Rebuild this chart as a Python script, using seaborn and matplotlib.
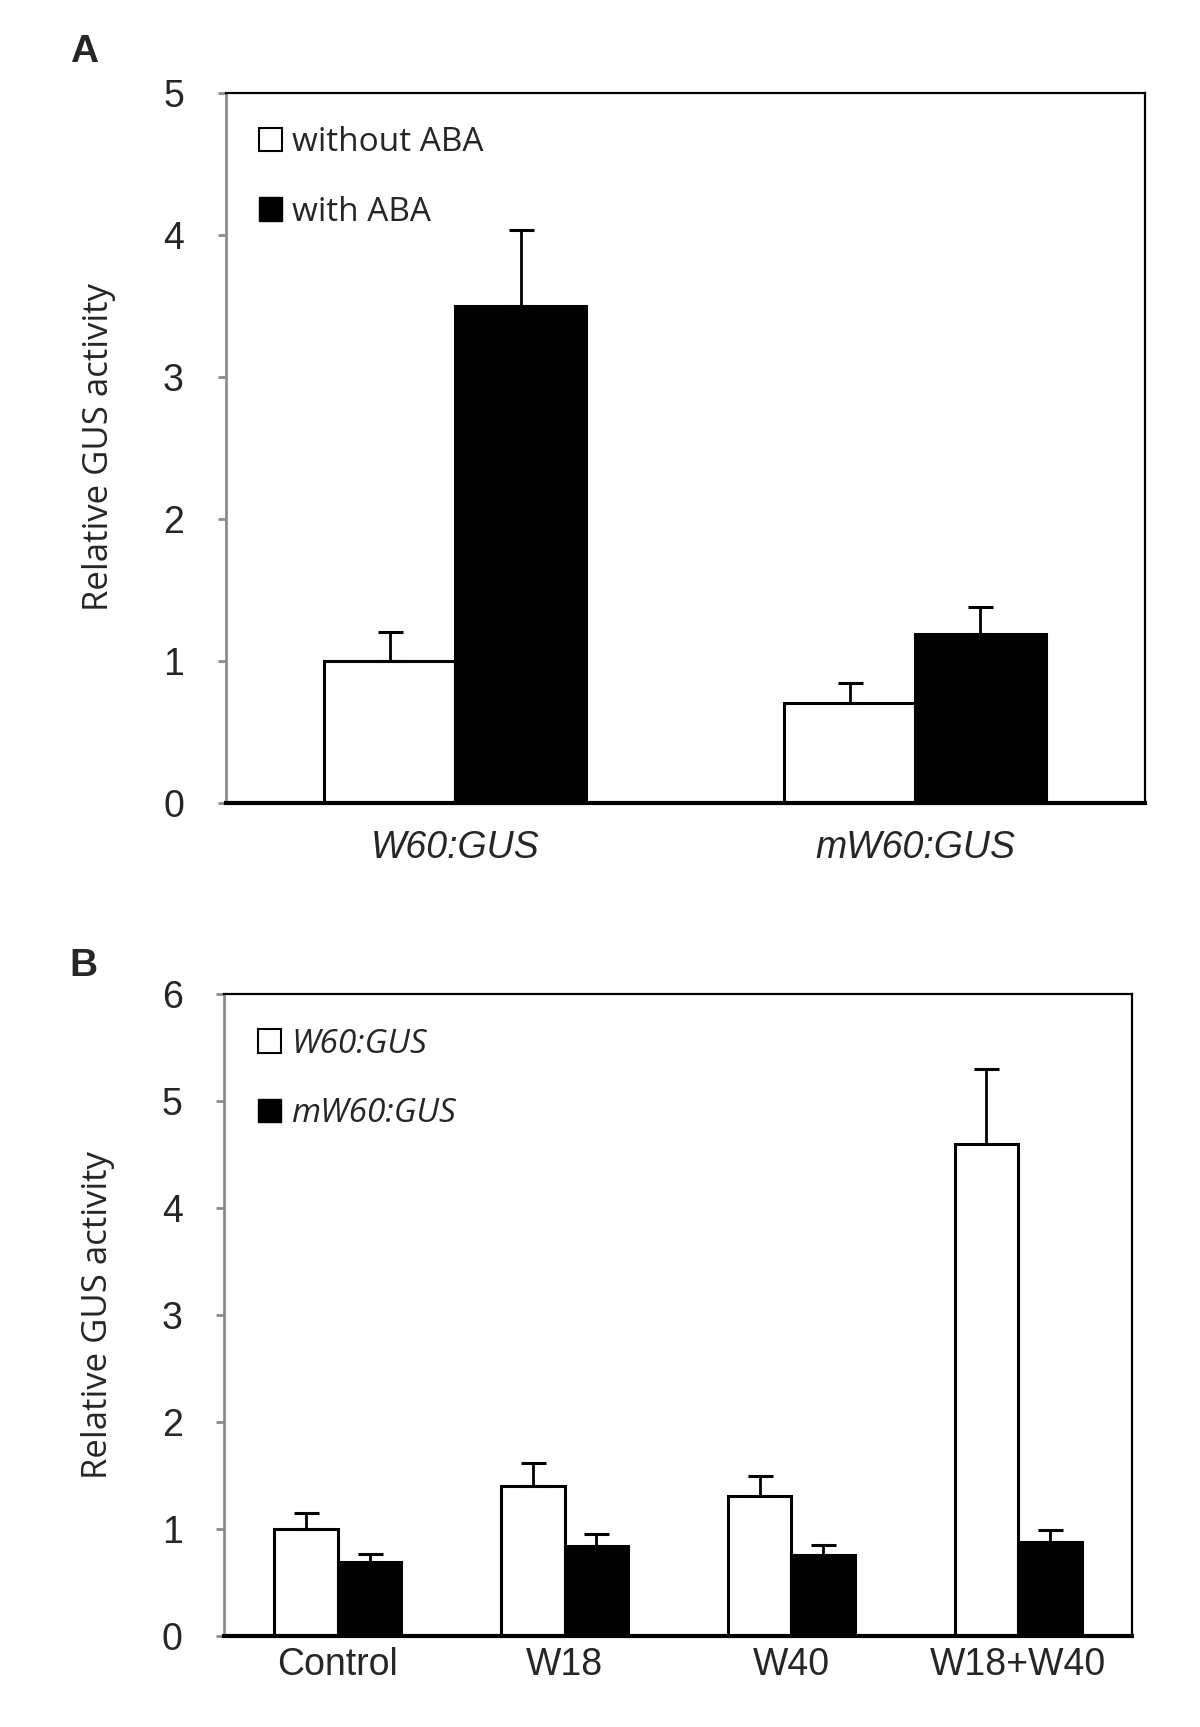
import numpy as np
import pandas as pd
import matplotlib
matplotlib.use("Agg")
import matplotlib.pyplot as plt
from matplotlib.patches import Patch
import seaborn as sns

# data panel A
constructs = ["W60:GUS", "mW60:GUS"]
treat = ["without ABA", "with ABA"]
a_without = [1.0, 0.70]
a_with = [3.50, 1.19]
a_without_err = [0.20, 0.14]
a_with_err = [0.53, 0.19]

# data panel B
effectors = ["Control", "W18", "W40", "W18+W40"]
reporters = ["W60:GUS", "mW60:GUS"]
b_w60 = [1.0, 1.40, 1.31, 4.60]
b_mw60 = [0.69, 0.84, 0.76, 0.88]
b_w60_err = [0.15, 0.22, 0.19, 0.70]
b_mw60_err = [0.08, 0.11, 0.09, 0.11]

sns.set_style("white")
plt.rcParams['font.family'] = ['Open Sans', 'DejaVu Sans']
tick_font = ['Liberation Sans Narrow', 'Liberation Sans', 'DejaVu Sans']

df_a = pd.DataFrame({
    "construct": constructs * 2,
    "treat": [treat[0]] * 2 + [treat[1]] * 2,
    "value": a_without + a_with,
})
df_b = pd.DataFrame({
    "effector": effectors * 2,
    "reporter": [reporters[0]] * 4 + [reporters[1]] * 4,
    "value": b_w60 + b_mw60,
})

fig = plt.figure(figsize=(12, 17.27), dpi=100)
ax1 = fig.add_axes([0.188, 0.5353, 0.766, 0.4111])
ax2 = fig.add_axes([0.187, 0.0527, 0.756, 0.3716])


def style_axes(ax, ymax, xpad):
    ax.set_ylim(0, ymax)
    ax.set_yticks(range(ymax + 1))
    ax.spines['left'].set_color('#8c8c8c')
    ax.spines['left'].set_linewidth(2)
    ax.spines['bottom'].set_color('black')
    ax.spines['bottom'].set_linewidth(3)
    for s in ['top', 'right']:
        ax.spines[s].set_visible(True)
        ax.spines[s].set_color('black')
        ax.spines[s].set_linewidth(1.6)
    ax.tick_params(axis='y', direction='out', length=6, width=2, color='#8c8c8c',
                   left=True, pad=24, labelsize=27)
    ax.tick_params(axis='x', length=0, pad=xpad, labelsize=27)
    for lab in ax.get_yticklabels() + ax.get_xticklabels():
        lab.set_family(tick_font)
    ax.set_xlabel("")
    ax.set_ylabel("Relative GUS activity", fontsize=25, labelpad=34)


def add_err(ax, errs):
    bars = [p for p in ax.patches]
    x = [p.get_x() + p.get_width() / 2 for p in bars]
    h = [p.get_height() for p in bars]
    ax.errorbar(x, h, yerr=[np.zeros(len(errs)), errs], fmt='none', ecolor='black',
                elinewidth=2, capsize=9, capthick=2.2, zorder=5)


# panel A
sns.barplot(data=df_a, x="construct", y="value", hue="treat", hue_order=treat,
            palette=["white", "black"], edgecolor="black", linewidth=2.2,
            width=0.57, gap=0, errorbar=None, legend=False, ax=ax1)
add_err(ax1, a_without_err + a_with_err)
ax1.set_xlim(-0.5, 1.5)
style_axes(ax1, 5, 20)
for lab in ax1.get_xticklabels():
    lab.set_style('italic')
h_a = [Patch(facecolor='white', edgecolor='black', linewidth=1.5, label=treat[0]),
       Patch(facecolor='black', edgecolor='black', label=treat[1])]
ax1.legend(handles=h_a, loc='upper left', bbox_to_anchor=(0.0, 1.0), frameon=False,
           fontsize=24, handlelength=0.7, handleheight=0.7, handletextpad=0.3,
           labelspacing=1.1, borderaxespad=0.6)

# panel B
sns.barplot(data=df_b, x="effector", y="value", hue="reporter", hue_order=reporters,
            palette=["white", "black"], edgecolor="black", linewidth=2.2,
            width=0.56, gap=0, errorbar=None, legend=False, ax=ax2)
add_err(ax2, b_w60_err + b_mw60_err)
ax2.set_xlim(-0.5, 3.5)
style_axes(ax2, 6, 8)
h_b = [Patch(facecolor='white', edgecolor='black', linewidth=1.5, label=reporters[0]),
       Patch(facecolor='black', edgecolor='black', label=reporters[1])]
leg = ax2.legend(handles=h_b, loc='upper left', bbox_to_anchor=(0.0, 1.0), frameon=False,
                 fontsize=24, handlelength=0.7, handleheight=0.7, handletextpad=0.3,
                 labelspacing=1.1, borderaxespad=0.6)
for t in leg.get_texts():
    t.set_style('italic')

fig.text(0.058, 0.964, "A", fontsize=28, fontweight='bold', family='Liberation Sans')
fig.text(0.058, 0.435, "B", fontsize=28, fontweight='bold', family='Liberation Sans')

fig.savefig("out.png", dpi=100, facecolor='white')
